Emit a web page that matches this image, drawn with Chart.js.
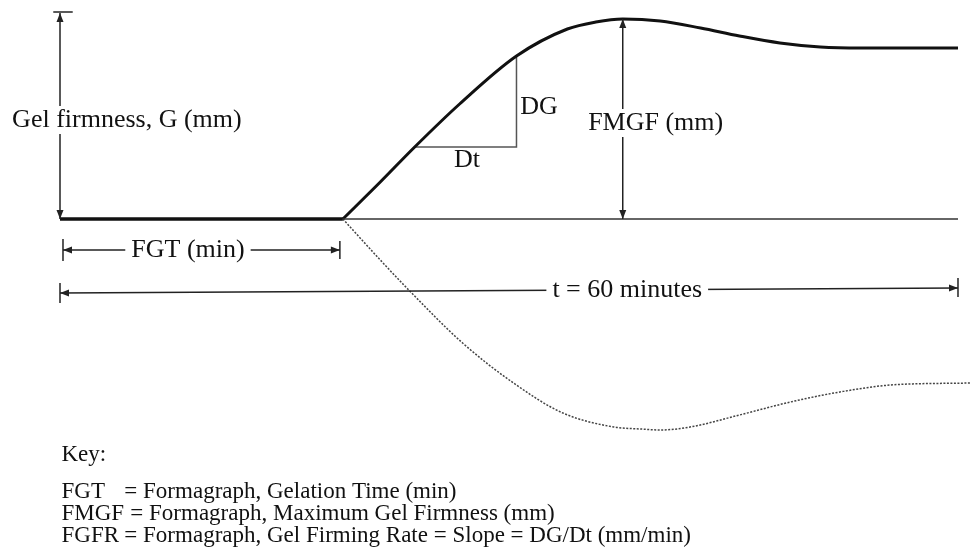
<!DOCTYPE html>
<html>
<head>
<meta charset="utf-8">
<script src="https://cdn.jsdelivr.net/npm/chart.js@4.4.0/dist/chart.umd.min.js"></script>
<style>
  html, body { margin: 0; padding: 0; background: #fff; }
  canvas { display: block; }
</style>
</head>
<body>
<canvas id="myChart" width="971" height="549"></canvas>
<script>
// time in minutes, gel firmness in mm
let gelationTime = 18.9;
let totalTime = 60;
let maxFirmness = 40;
let lagTimes = [0, 18.9];
let lagFirmness = [0, 0];
let baseTimes = [18.9, 60];
let baseFirmness = [0, 0];
let upperTimes = [18.9, 21.4, 23.7, 26.7, 30.5, 33.9, 35.8, 37.6, 40.1, 42.8, 45.4, 48.1, 50.8, 53.5, 56.1, 60];
let upperFirmness = [0, 7.4, 14.4, 23.0, 32.6, 38.0, 39.4, 40.0, 39.6, 38.2, 36.6, 35.2, 34.4, 34.2, 34.2, 34.2];
let lowerTimes = [18.9, 21.4, 23.3, 26.9, 30.3, 33.6, 37.0, 38.8, 40.1, 42.1, 45.4, 48.8, 52.1, 55.5, 60.8];
let lowerFirmness = [0, -8.2, -14.2, -24.8, -32.8, -38.8, -41.6, -42.0, -42.2, -41.6, -39.2, -36.6, -34.6, -33.2, -32.8];
let slopeTimes = [23.7, 30.5, 30.5];
let slopeFirmness = [14.4, 14.4, 32.6];
let keyLabels = ["FGT", "FMGF", "FGFR"];
let keyTexts = [
    "= Formagraph, Gelation Time (min)",
    "= Formagraph, Maximum Gel Firmness (mm)",
    "= Formagraph, Gel Firming Rate = Slope = DG/Dt (mm/min)"
];

const serif = '"Liberation Serif", "Times New Roman", serif';

function toPoints(xs, ys) {
    return xs.map((x, i) => ({x: x, y: ys[i]}));
}

function arrowHead(c, x, y, angle) {
    c.save();
    c.translate(x, y);
    c.rotate(angle);
    c.beginPath();
    c.moveTo(0, 0);
    c.lineTo(-9, -3.5);
    c.lineTo(-9, 3.5);
    c.closePath();
    c.fill();
    c.restore();
}

function line(c, x1, y1, x2, y2) {
    c.beginPath();
    c.moveTo(x1, y1);
    c.lineTo(x2, y2);
    c.stroke();
}

function label(c, text, x, y, align, clear) {
    c.textAlign = align;
    c.textBaseline = 'middle';
    if (clear) {
        let w = c.measureText(text).width;
        let left = align == 'center' ? x - w / 2 : x;
        c.fillStyle = '#fff';
        c.fillRect(left - 6, y - 14, w + 12, 28);
    }
    c.fillStyle = '#111';
    c.fillText(text, x, y);
}

const annotations = {
    id: 'annotations',
    afterDatasetsDraw(chart) {
        const c = chart.ctx;
        const px = t => chart.scales.x.getPixelForValue(t);
        const py = g => chart.scales.y.getPixelForValue(g);
        c.save();
        c.strokeStyle = '#222';
        c.fillStyle = '#222';
        c.lineWidth = 1.5;

        // vertical firmness axis
        let x0 = px(0);
        line(c, x0, py(0), x0, py(41.2));
        arrowHead(c, x0, py(41.2), -Math.PI / 2);
        arrowHead(c, x0, py(0), Math.PI / 2);
        line(c, px(-0.45), py(41.4), px(0.85), py(41.4));

        // FMGF arrow
        let xm = px(37.6);
        line(c, xm, py(0), xm, py(maxFirmness));
        arrowHead(c, xm, py(maxFirmness), -Math.PI / 2);
        arrowHead(c, xm, py(0), Math.PI / 2);

        // FGT arrow
        let yf = py(-6.2);
        line(c, px(0.2), yf, px(gelationTime - 0.2), yf);
        arrowHead(c, px(0.2), yf, Math.PI);
        arrowHead(c, px(gelationTime - 0.2), yf, 0);
        line(c, px(0.2), yf - 11, px(0.2), yf + 11);
        line(c, px(gelationTime - 0.2), yf - 9, px(gelationTime - 0.2), yf + 9);

        // total time arrow
        let yl = py(-14.8), yr = py(-13.8);
        line(c, px(0), yl, px(totalTime), yr);
        arrowHead(c, px(0), yl, Math.PI);
        arrowHead(c, px(totalTime), yr, 0);
        line(c, px(0), yl - 10, px(0), yl + 10);
        line(c, px(totalTime), yr - 10, px(totalTime), yr + 9);

        // labels
        c.font = '26px ' + serif;
        label(c, 'Gel firmness, G (mm)', px(-3.2), py(19.8), 'left', true);
        label(c, 'FMGF (mm)', px(39.8), py(19.2), 'center', true);
        label(c, 'FGT (min)', px(8.55), yf, 'center', true);
        label(c, 't = 60 minutes', px(37.9), py(-14.3), 'center', true);
        label(c, 'DG', px(30.75), py(22.4), 'left', false);
        label(c, 'Dt', px(27.2), py(11.8), 'center', false);

        // key
        c.font = '23px ' + serif;
        label(c, 'Key:', px(0.1), py(-47.2), 'left', false);
        let eqX = [4.3, 4.7, 4.3];
        keyLabels.forEach((k, i) => {
            let y = py(-54.6 - i * 4.4);
            label(c, k, px(0.1), y, 'left', false);
            label(c, keyTexts[i], px(eqX[i]), y, 'left', false);
        });
        c.restore();
    }
};

let ctx = document.getElementById("myChart").getContext('2d');
let myChart = new Chart(ctx, {
    type: 'line',
    data: {
        datasets: [
            {data: toPoints(baseTimes, baseFirmness), borderColor: '#333', borderWidth: 1.5},
            {data: toPoints(lagTimes, lagFirmness), borderColor: '#111', borderWidth: 3.5},
            {data: toPoints(upperTimes, upperFirmness), borderColor: '#111', borderWidth: 3, cubicInterpolationMode: 'monotone'},
            {data: toPoints(lowerTimes, lowerFirmness), borderColor: '#444', borderWidth: 1.5, borderDash: [2, 1.5], cubicInterpolationMode: 'monotone'},
            {data: toPoints(slopeTimes, slopeFirmness), borderColor: '#555', borderWidth: 1.5, tension: 0}
        ]
    },
    options: {
        responsive: false,
        animation: false,
        layout: {padding: 0},
        elements: {point: {radius: 0}},
        plugins: {legend: {display: false}, tooltip: {enabled: false}},
        scales: {
            x: {type: 'linear', min: -4.009, max: 60.869, display: false},
            y: {min: -66, max: 43.8, display: false}
        }
    },
    plugins: [annotations]
});
</script>
</body>
</html>
